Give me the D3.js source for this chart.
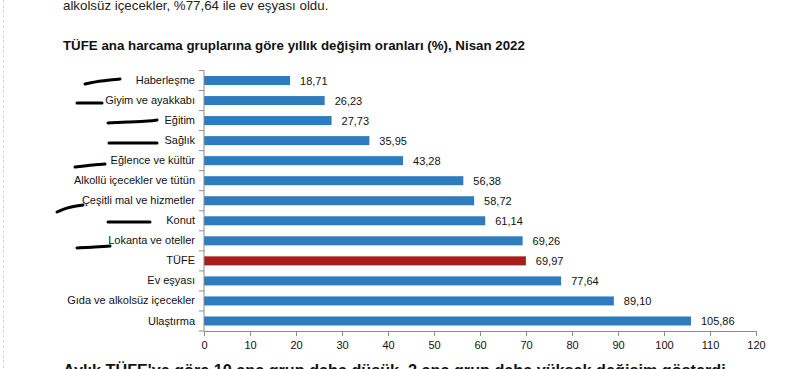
<!DOCTYPE html>
<html><head><meta charset="utf-8">
<script src="https://cdn.jsdelivr.net/npm/d3@7"></script>
<style>
html,body{margin:0;padding:0;background:#fff;overflow:hidden}
svg{display:block;font-family:"Liberation Sans",Arial,sans-serif}
</style></head>
<body>
<svg id="c" width="797" height="369"></svg>
<script>
const categories = ["Haberleşme","Giyim ve ayakkabı","Eğitim","Sağlık","Eğlence ve kültür","Alkollü içecekler ve tütün","Çeşitli mal ve hizmetler","Konut","Lokanta ve oteller","TÜFE","Ev eşyası","Gıda ve alkolsüz içecekler","Ulaştırma"];
const values = [18.71,26.23,27.73,35.95,43.28,56.38,58.72,61.14,69.26,69.97,77.64,89.10,105.86];
const highlight = ["TÜFE"];
const xTicks = [0,10,20,30,40,50,60,70,80,90,100,110,120];
const titleText = "TÜFE ana harcama gruplarına göre yıllık değişim oranları (%), Nisan 2022";
const topText = "alkolsüz içecekler, %77,64 ile ev eşyası oldu.";
const bottomText = "Aylık TÜFE'ye göre 10 ana grup daha düşük, 2 ana grup daha yüksek değişim gösterdi";

const svg = d3.select("#c");
const mLeft = 204, mRight = 756, mTop = 70.5, mBottom = 331;

// left page border
svg.append("line").attr("x1",3.5).attr("x2",3.5).attr("y1",0).attr("y2",369)
  .attr("stroke","#d8d8d8").attr("stroke-width",1).attr("stroke-dasharray","3,2");

svg.append("text").attr("x",63).attr("y",10).attr("font-size",13.3).attr("fill","#222").text(topText);
svg.append("text").attr("x",63).attr("y",50).attr("font-size",13.3).attr("font-weight","bold").attr("fill","#111").text(titleText);
svg.append("text").attr("x",63).attr("y",376).attr("font-size",16.2).attr("font-weight","bold").attr("fill","#111").text(bottomText);

const x = d3.scaleLinear().domain([0,120]).range([mLeft,mRight]);
const y = d3.scaleBand().domain(categories).range([mTop,mBottom]).paddingInner(0.55).paddingOuter(0.275);

const axisColor = "#8c8c8c";

// bars
svg.append("g").selectAll("rect").data(categories).join("rect")
  .attr("x", x(0)).attr("y", d=>y(d))
  .attr("width", (d,i)=>x(values[i])-x(0)).attr("height", y.bandwidth())
  .attr("fill", d=>highlight.includes(d) ? "#a51d1d" : "#2e7bbd");

// value labels
svg.append("g").selectAll("text").data(categories).join("text")
  .attr("x",(d,i)=>x(values[i])+10).attr("y",d=>y(d)+y.bandwidth()/2+4)
  .attr("font-size",11).attr("fill","#111")
  .text((d,i)=>d3.format(".2f")(values[i]).replace(".",","));

// x axis
const xa = svg.append("g").attr("transform",`translate(0,${mBottom})`)
  .call(d3.axisBottom(x).tickValues(xTicks).tickSize(5).tickSizeOuter(0).tickFormat(d3.format("d")));
xa.select(".domain").attr("stroke",axisColor);
xa.selectAll(".tick line").attr("stroke",axisColor);
xa.selectAll(".tick text").attr("font-size",11).attr("fill","#111").attr("dy","0.95em")
  .style("font-family","'Liberation Sans',Arial,sans-serif");

// y axis
const ya = svg.append("g").attr("transform",`translate(${mLeft},0)`)
  .call(d3.axisLeft(y).tickSize(0).tickPadding(9));
ya.select(".domain").attr("stroke",axisColor).attr("d",`M0,${mTop}V${mBottom}`);
ya.selectAll(".tick text").attr("font-size",11).attr("fill","#111")
  .style("font-family","'Liberation Sans',Arial,sans-serif");
// category separator ticks
const seps = d3.range(categories.length+1).map(i=>mTop+i*(mBottom-mTop)/categories.length);
ya.append("g").selectAll("line").data(seps).join("line")
  .attr("x1",-5).attr("x2",0).attr("y1",d=>d).attr("y2",d=>d).attr("stroke",axisColor);

// hand-drawn marker strokes over the labels
const strokes = [
  [[85,84],[100,81],[110,80],[120,79]],
  [[77,103],[90,103],[102,103]],
  [[108,123],[130,122],[150,121],[157,120]],
  [[109,143],[135,143],[157,143]],
  [[75,167],[90,165],[105,164]],
  [[57,212],[66,208],[75,206],[83,205]],
  [[108,222],[130,222],[150,222]],
  [[77,248],[95,247],[110,246]]
];
const line = d3.line().curve(d3.curveBasis);
svg.append("g").selectAll("path").data(strokes).join("path")
  .attr("d",line).attr("fill","none").attr("stroke","#000").attr("stroke-width",3).attr("stroke-linecap","round");
</script>
</body></html>
